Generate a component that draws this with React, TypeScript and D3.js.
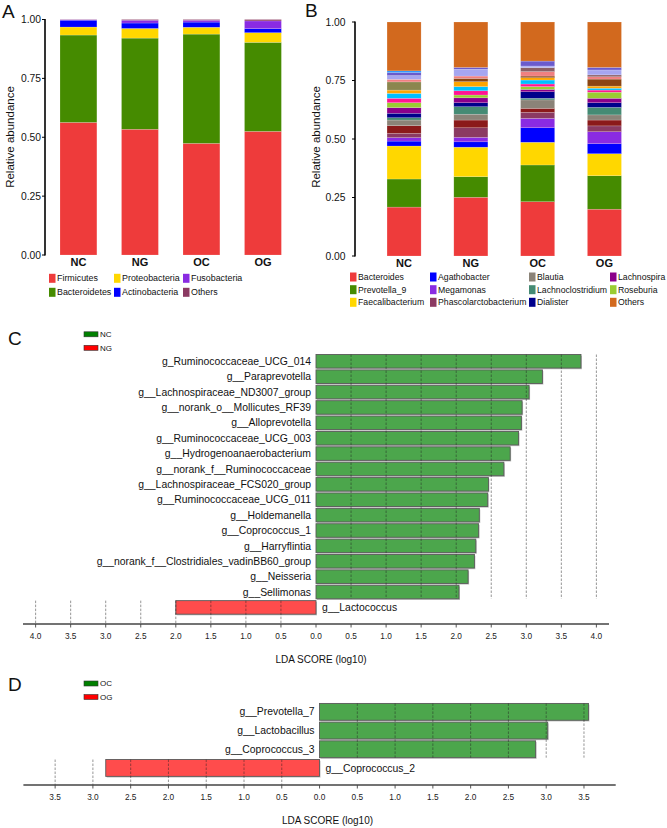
import React from "react";
import * as d3 from "d3";

const FONT = "'Liberation Sans', Arial, Helvetica, sans-serif";

// ---------- Panel A data ----------
const groupsA = ["NC", "NG", "OC", "OG"];
const phylaA = ["Firmicutes", "Bacteroidetes", "Proteobacteria", "Actinobacteria", "Fusobacteria", "Others"];
const phylaColorsA = ["#EE3B3B", "#458B00", "#FFD700", "#0000FF", "#8A2BE2", "#8B3A62"];
const firmicutes = [0.563, 0.534, 0.474, 0.525];
const bacteroidetes = [0.371, 0.387, 0.464, 0.378];
const proteobacteria = [0.034, 0.041, 0.029, 0.041];
const actinobacteria = [0.029, 0.023, 0.022, 0.017];
const fusobacteria = [0.002, 0.012, 0.008, 0.033];
const othersA = [0.001, 0.003, 0.003, 0.006];
const seriesA = [firmicutes, bacteroidetes, proteobacteria, actinobacteria, fusobacteria, othersA];

// ---------- Panel B data ----------
const groupsB = ["NC", "NG", "OC", "OG"];
const generaB = [
  "Bacteroides", "Prevotella_9", "Faecalibacterium", "Agathobacter", "Megamonas",
  "Phascolarctobacterium", "unlabeled_1", "Blautia", "Lachnoclostridium", "Dialister",
  "Lachnospira", "Roseburia", "unlabeled_2", "unlabeled_3", "unlabeled_4", "unlabeled_5",
  "unlabeled_6", "unlabeled_7", "unlabeled_8", "unlabeled_9", "unlabeled_10", "unlabeled_11", "Others",
];
const generaColorsB = [
  "#EE3B3B", "#458B00", "#FFD700", "#0000FF", "#8A2BE2",
  "#8B3A62", "#8B1A1A", "#8B8378", "#458B74", "#00008B",
  "#8B008B", "#9ACD32", "#FF1493", "#00BFFF", "#FFA500", "#8B4513",
  "#8B864E", "#F08080", "#8B5F65", "#A6A6F0", "#6A5ACD", "#1E90FF", "#D2691E",
];
const valuesNC = [0.209, 0.120, 0.141, 0.021, 0.015, 0.018, 0.033, 0.024, 0.010, 0.019, 0.024, 0.021, 0.019, 0.021, 0.014, 0, 0.035, 0.011, 0, 0.016, 0.013, 0.007, 0.209];
const valuesNG = [0.251, 0.088, 0.126, 0.023, 0.019, 0.041, 0.033, 0.025, 0.032, 0.017, 0.021, 0.012, 0.018, 0.018, 0.021, 0.014, 0, 0.010, 0, 0.029, 0.008, 0, 0.194];
const valuesOC = [0.232, 0.157, 0.097, 0.062, 0.040, 0.026, 0.017, 0.036, 0.007, 0.028, 0.010, 0.012, 0.011, 0.017, 0.010, 0.007, 0, 0.019, 0.017, 0.007, 0.021, 0, 0.167];
const valuesOG = [0.200, 0.143, 0.094, 0.043, 0.051, 0.025, 0.025, 0.022, 0.032, 0.020, 0.019, 0.026, 0.009, 0.008, 0.009, 0.030, 0, 0.010, 0.008, 0.021, 0.011, 0, 0.194];
const seriesB = [valuesNC, valuesNG, valuesOC, valuesOG];
const legendB = [
  "Bacteroides", "Prevotella_9", "Faecalibacterium", "Agathobacter", "Megamonas", "Phascolarctobacterium",
  "Blautia", "Lachnoclostridium", "Dialister", "Lachnospira", "Roseburia", "Others",
];

const yTicks = [0, 0.25, 0.5, 0.75, 1];

// ---------- Panel C data ----------
const generaC = [
  "g_Ruminococcaceae_UCG_014", "g__Paraprevotella", "g__Lachnospiraceae_ND3007_group",
  "g__norank_o__Mollicutes_RF39", "g__Alloprevotella", "g__Ruminococcaceae_UCG_003",
  "g__Hydrogenoanaerobacterium", "g__norank_f__Ruminococcaceae", "g__Lachnospiraceae_FCS020_group",
  "g__Ruminococcaceae_UCG_011", "g__Holdemanella", "g__Coprococcus_1", "g__Harryflintia",
  "g__norank_f__Clostridiales_vadinBB60_group", "g__Neisseria", "g__Sellimonas", "g__Lactococcus",
];
const scoresC = [3.78, 3.23, 3.04, 2.94, 2.93, 2.89, 2.77, 2.68, 2.46, 2.45, 2.33, 2.32, 2.28, 2.26, 2.17, 2.04, 2.0];
const enrichedC = ["NC", "NC", "NC", "NC", "NC", "NC", "NC", "NC", "NC", "NC", "NC", "NC", "NC", "NC", "NC", "NC", "NG"];
const groupsC = ["NC", "NG"];

// ---------- Panel D data ----------
const generaD = ["g__Prevotella_7", "g__Lactobacillus", "g__Coprococcus_3", "g__Coprococcus_2"];
const scoresD = [3.56, 3.02, 2.86, 2.83];
const enrichedD = ["OC", "OC", "OC", "OG"];
const groupsD = ["OC", "OG"];

function StackPanel(props: any) {
  const { groups, keys, colors, value, xRange, pad, yRange, axisX, tickRight, ylabX, ylabY } = props;
  const x = d3.scaleBand<string>().domain(groups).range(xRange).paddingInner(pad[0]).paddingOuter(pad[1]);
  const y = d3.scaleLinear().domain([0, 1]).range(yRange);
  const rows = groups.map((g: string, gi: number) => {
    const o: any = { group: g };
    keys.forEach((k: string, ki: number) => (o[k] = value(ki, gi)));
    return o;
  });
  const stacked = d3.stack<any>().keys(keys)(rows);
  return (
    <g>
      {stacked.map((layer, li) => (
        <g key={li} fill={colors[li]}>
          {layer.map((d, i) => {
            const h = y(d[0]) - y(d[1]);
            if (!(h > 0)) return null;
            return (
              <rect key={i} x={x(groups[i])} y={y(d[1])} width={x.bandwidth()} height={h}
                stroke="#ffffff" strokeOpacity={0.35} strokeWidth={0.5} />
            );
          })}
        </g>
      ))}
      <line x1={axisX} x2={axisX} y1={y(1) - 0.5} y2={y(0) + 0.5} stroke="#000" strokeWidth={1.6} />
      {yTicks.map((t) => (
        <g key={t}>
          <line x1={axisX - 3} x2={axisX} y1={y(t)} y2={y(t)} stroke="#000" strokeWidth={1} />
          <text x={tickRight} y={y(t)} dy="0.35em" textAnchor="end" fontSize={10.3} fontFamily={FONT} fill="#111">
            {t.toFixed(2)}
          </text>
        </g>
      ))}
      {groups.map((g: string) => (
        <text key={g} x={(x(g) as number) + x.bandwidth() / 2} y={y(0) + 7} dy="0.35em" textAnchor="middle"
          fontSize={11} fontWeight="bold" fontFamily={FONT} fill="#111">
          {g}
        </text>
      ))}
      <text transform={`translate(${ylabX},${ylabY}) rotate(-90)`} textAnchor="middle" fontSize={11.5} fontFamily={FONT} fill="#111" dy="0.35em">
        Relative abundance
      </text>
    </g>
  );
}

function Legend(props: any) {
  const { items, colors, cols, rowsY, fontSize } = props;
  return (
    <g>
      {items.map((name: string, i: number) => {
        const c = Math.floor(i / rowsY.length);
        const r = i % rowsY.length;
        const cx = cols[c];
        const cy = rowsY[r];
        return (
          <g key={name}>
            <rect x={cx} y={cy - 4.5} width={6.5} height={9} fill={colors[i]} />
            <text x={cx + 8} y={cy} dy="0.35em" fontSize={fontSize} fontFamily={FONT} fill="#111">{name}</text>
          </g>
        );
      })}
    </g>
  );
}

function LdaPanel(props: any) {
  const { names, scores, enriched, groups, domain, xRange, yRange, pad, axisY, ticks, titleX, titleY, legendY } = props;
  const x = d3.scaleLinear().domain(domain).range(xRange);
  const y = d3.scaleBand<string>().domain(names).range(yRange).paddingInner(pad[0]).paddingOuter(pad[1]);
  const signed = scores.map((s: number, i: number) => (enriched[i] === groups[0] ? s : -s));
  const pos = names.filter((_: string, i: number) => signed[i] > 0);
  const neg = names.filter((_: string, i: number) => signed[i] < 0);
  const posTop = y(pos[0]) as number;
  const posBot = (y(pos[pos.length - 1]) as number) + y.bandwidth();
  const negTop = y(neg[0]) as number;
  const zero = x(0);
  const gridPos = ticks.filter((t: number) => t > 0);
  const gridNeg = ticks.filter((t: number) => t < 0);
  return (
    <g>
      {names.map((n: string, i: number) => {
        const v = signed[i];
        const bx = Math.min(x(v), zero);
        const bw = Math.abs(x(v) - zero);
        const by = y(n) as number;
        const fill = v > 0 ? "#4CA64C" : "#FF4C4C";
        return (
          <g key={n}>
            <rect x={bx + 1} y={by + 1.2} width={bw} height={y.bandwidth()} fill="#c4c4c4" />
            <rect x={bx} y={by} width={bw} height={y.bandwidth()} fill={fill} stroke="#5a5a5a" strokeWidth={0.9} />
          </g>
        );
      })}
      {gridPos.map((t: number) => (
        <line key={"p" + t} x1={x(t)} x2={x(t)} y1={posTop} y2={posBot} stroke="#222" strokeOpacity={0.6}
          strokeWidth={0.8} strokeDasharray="2.5,1.5" />
      ))}
      {gridNeg.map((t: number) => (
        <line key={"n" + t} x1={x(t)} x2={x(t)} y1={negTop} y2={axisY} stroke="#222" strokeOpacity={0.6}
          strokeWidth={0.8} strokeDasharray="2.5,1.5" />
      ))}
      {names.map((n: string, i: number) => {
        const v = signed[i];
        const cy = (y(n) as number) + y.bandwidth() / 2;
        return (
          <text key={"t" + n} x={v > 0 ? zero - 5 : zero + 6} y={cy} dy="0.35em" textAnchor={v > 0 ? "end" : "start"}
            fontSize={10.4} fontFamily={FONT} fill="#111">
            {n}
          </text>
        );
      })}
      <line x1={xRange[0]} x2={xRange[1]} y1={axisY} y2={axisY} stroke="#444" strokeWidth={1.6} />
      {ticks.map((t: number) => (
        <g key={"k" + t}>
          <line x1={x(t)} x2={x(t)} y1={axisY} y2={axisY + 3.5} stroke="#444" strokeWidth={0.9} />
          <text x={x(t)} y={axisY + 12.5} dy="0.35em" textAnchor="middle" fontSize={8.3} fontFamily={FONT} fill="#222">
            {Math.abs(t).toFixed(1)}
          </text>
        </g>
      ))}
      <text x={titleX} y={titleY} dy="0.35em" textAnchor="middle" fontSize={10} fontFamily={FONT} fill="#111">
        LDA SCORE (log10)
      </text>
      {groups.map((g: string, i: number) => (
        <g key={"l" + g}>
          <rect x={84} y={legendY + i * 13.5 - 2.5} width={14} height={5} fill={i === 0 ? "#008000" : "#FF0000"}
            stroke="#333" strokeWidth={0.6} />
          <text x={100} y={legendY + i * 13.5} dy="0.35em" fontSize={8} fontFamily={FONT} fill="#111">{g}</text>
        </g>
      ))}
    </g>
  );
}

export default function App() {
  const ticksC = d3.range(-8, 9).map((i) => i * 0.5);
  const ticksD = d3.range(-7, 8).map((i) => i * 0.5);
  return (
    <svg width={667} height={828} viewBox="0 0 667 828" style={{ position: "absolute", left: 0, top: 0, background: "#fff" }}>
      <rect width={667} height={828} fill="#fff" />
      {/* Panel A */}
      <text x={2} y={18} fontSize={19} fontFamily={FONT} fill="#111">A</text>
      <StackPanel groups={groupsA} keys={phylaA} colors={phylaColorsA}
        value={(ki: number, gi: number) => seriesA[ki][gi]}
        xRange={[47.7, 293.7]} pad={[0.4, 0.2]} yRange={[255, 19.5]} axisX={45} tickRight={41}
        ylabX={9.5} ylabY={137} />
      <Legend items={phylaA} colors={phylaColorsA} cols={[49, 114, 183]} rowsY={[278.3, 292.3]} fontSize={8.9} />
      {/* Panel B */}
      <text x={305} y={17} fontSize={19} fontFamily={FONT} fill="#111">B</text>
      <StackPanel groups={groupsB} keys={generaB} colors={generaColorsB}
        value={(ki: number, gi: number) => seriesB[gi][ki]}
        xRange={[367, 641.5]} pad={[0.49, 0.3]} yRange={[256, 22]} axisX={355} tickRight={345.5}
        ylabX={316} ylabY={137} />
      <Legend items={legendB} colors={legendB.map((n) => generaColorsB[generaB.indexOf(n)])}
        cols={[350, 430, 529, 610]} rowsY={[277, 289.7, 302.3]} fontSize={8.7} />
      {/* Panel C */}
      <text x={8} y={345} fontSize={19} fontFamily={FONT} fill="#111">C</text>
      <LdaPanel names={generaC} scores={scoresC} enriched={enrichedC} groups={groupsC}
        domain={[-4.18, 4.18]} xRange={[23, 609]} yRange={[353.6, 615.1]} pad={[0.12, 0.06]}
        axisY={624} ticks={ticksC} titleX={321} titleY={659} legendY={334.3} />
      {/* Panel D */}
      <text x={8} y={691} fontSize={19} fontFamily={FONT} fill="#111">D</text>
      <LdaPanel names={generaD} scores={scoresD} enriched={enrichedD} groups={groupsD}
        domain={[-3.92, 3.92]} xRange={[23.4, 615.7]} yRange={[702.5, 777.3]} pad={[0.1, 0.05]}
        axisY={785} ticks={ticksD} titleX={327.5} titleY={820} legendY={683.5} />
    </svg>
  );
}
